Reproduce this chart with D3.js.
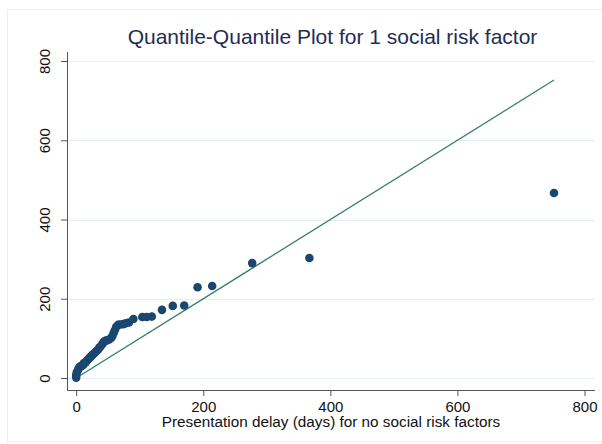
<!DOCTYPE html>
<html>
<head>
<meta charset="utf-8">
<script src="https://cdn.jsdelivr.net/npm/d3@7"></script>
<style>
  html, body { margin: 0; padding: 0; background: #fff; }
  svg { display: block; font-family: "Liberation Sans", Arial, sans-serif; }
</style>
</head>
<body>
<svg id="chart" width="602" height="444"></svg>
<script>
// Quantiles of presentation delay (days): no social risk factors (x) vs 1 social risk factor (y)
const noRiskQuantiles = [0, 0, 1, 3, 4, 6, 8, 11, 12, 15, 17, 19, 22, 24, 26, 29, 31, 34, 36, 38,
  41, 43, 45, 48, 52, 55, 57, 59, 61, 63, 66, 69, 74, 78, 83, 90, 104, 111, 119, 135,
  152, 170, 191, 214, 277, 367, 752];
const oneRiskQuantiles = [1, 8, 15, 20, 25, 29, 30, 33, 38, 40, 44, 48, 52, 56, 59, 63, 67, 71, 76, 79,
  85, 91, 93, 95, 97, 101, 106, 114, 121, 129, 134, 135, 136, 138, 140, 149, 154, 154, 155, 172,
  182, 183, 229, 232, 290, 303, 467];
const xTicks = [0, 200, 400, 600, 800];
const yTicks = [0, 200, 400, 600, 800];

const titleText = "Quantile-Quantile Plot for 1 social risk factor";
const xTitleText = "Presentation delay (days) for no social risk factors";

const svg = d3.select("#chart");

// plot region bounds
const plot = { left: 67, right: 595, top: 52, bottom: 390 };

const x = d3.scaleLinear().domain([0, 800]).range([76.2, 584.5]);
const y = d3.scaleLinear().domain([0, 800]).range([378, 61]);

// faint outer frame of the graph region
svg.append("rect")
  .attr("x", 7.5).attr("y", 9.5)
  .attr("width", 620).attr("height", 432)
  .attr("fill", "none")
  .attr("stroke", "#e6eef0")
  .attr("stroke-width", 1);

// horizontal grid lines
svg.append("g").selectAll("line")
  .data(yTicks)
  .join("line")
  .attr("x1", plot.left).attr("x2", plot.right)
  .attr("y1", d => Math.round(y(d)) + 0.5)
  .attr("y2", d => Math.round(y(d)) + 0.5)
  .attr("stroke", "#e6eff0")
  .attr("stroke-width", 1);

// y axis (labels rotated, centred on the ticks)
const yAxis = d3.axisLeft(y).tickValues(yTicks).tickSize(6).tickSizeOuter(0).tickFormat(d3.format("d"));
const gy = svg.append("g").attr("transform", `translate(${plot.left},0)`).call(yAxis);
gy.select(".domain").remove();
gy.selectAll(".tick line").attr("stroke", "#555");
gy.selectAll(".tick text")
  .attr("fill", "#111")
  .attr("font-size", 15)
  .attr("text-anchor", "middle")
  .attr("dominant-baseline", "central")
  .attr("dy", null)
  .attr("x", null)
  .attr("transform", `translate(${44 - plot.left},0) rotate(-90)`);
svg.append("line")
  .attr("x1", plot.left + 0.5).attr("x2", plot.left + 0.5)
  .attr("y1", plot.top).attr("y2", plot.bottom)
  .attr("stroke", "#555").attr("stroke-width", 1);

// x axis
const xAxis = d3.axisBottom(x).tickValues(xTicks).tickSize(6).tickSizeOuter(0).tickFormat(d3.format("d"));
const gx = svg.append("g").attr("transform", `translate(0,${plot.bottom})`).call(xAxis);
gx.select(".domain").remove();
gx.selectAll(".tick line").attr("stroke", "#555");
gx.selectAll(".tick text")
  .attr("fill", "#111")
  .attr("font-size", 15)
  .attr("y", 21.5)
  .attr("dy", null);
svg.append("line")
  .attr("x1", plot.left).attr("x2", plot.right)
  .attr("y1", plot.bottom + 0.5).attr("y2", plot.bottom + 0.5)
  .attr("stroke", "#555").attr("stroke-width", 1);

// reference line of equality
const lo = Math.min(d3.min(noRiskQuantiles), d3.min(oneRiskQuantiles));
const hi = d3.max(noRiskQuantiles);
svg.append("line")
  .attr("x1", x(lo)).attr("y1", y(lo))
  .attr("x2", x(hi)).attr("y2", y(hi))
  .attr("stroke", "#35806e")
  .attr("stroke-width", 1.3);

// quantile pairs
const pairs = noRiskQuantiles.map((v, i) => [v, oneRiskQuantiles[i]]);
svg.append("g").selectAll("circle")
  .data(pairs)
  .join("circle")
  .attr("cx", d => x(d[0]))
  .attr("cy", d => y(d[1]))
  .attr("r", 4.3)
  .attr("fill", "#1a476f");

// titles
svg.append("text")
  .attr("x", 332.5).attr("y", 44)
  .attr("text-anchor", "middle")
  .attr("font-size", 21)
  .attr("fill", "#1f2d54")
  .text(titleText);

svg.append("text")
  .attr("x", 331).attr("y", 427)
  .attr("text-anchor", "middle")
  .attr("font-size", 15.3)
  .attr("fill", "#111")
  .text(xTitleText);
</script>
</body>
</html>
